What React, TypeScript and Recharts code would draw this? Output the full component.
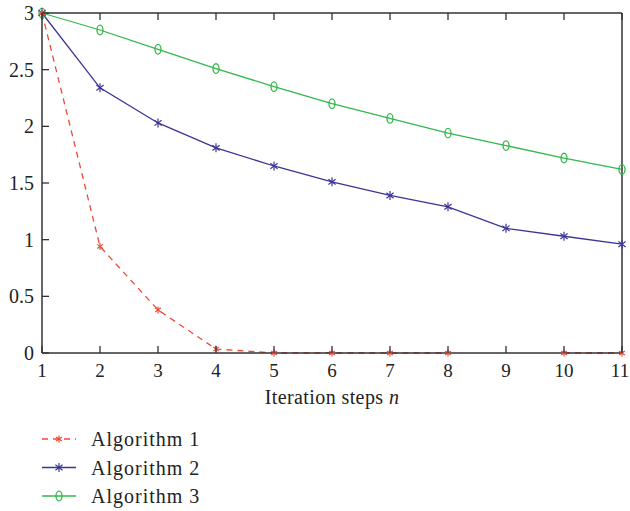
import React from "react";
import { LineChart, Line, XAxis, YAxis } from "recharts";

const steps = [1, 2, 3, 4, 5, 6, 7, 8, 9, 10, 11];
const algorithm1 = [3, 0.94, 0.38, 0.035, 0, 0, 0, 0, null, 0, 0];
const algorithm2 = [3, 2.34, 2.03, 1.81, 1.65, 1.51, 1.39, 1.29, 1.1, 1.03, 0.96];
const algorithm3 = [3, 2.85, 2.68, 2.51, 2.35, 2.2, 2.07, 1.94, 1.83, 1.72, 1.62];
const yTicks = [0, 0.5, 1, 1.5, 2, 2.5, 3];
const seriesNames = ["Algorithm 1", "Algorithm 2", "Algorithm 3"];

const RED = "#ee4a35";
const BLUE = "#3b3597";
const GREEN = "#33b84a";
const AXIS = "#333";
const FONT = "'Liberation Serif', 'DejaVu Serif', serif";
const FS = 20;

const chartData = steps.map((s, i) => ({
  step: s,
  a1: algorithm1[i],
  a2: algorithm2[i],
  a3: algorithm3[i],
}));

const StarMark = ({ cx, cy, color, r }: any) => (
  <g stroke={color} strokeWidth={1.2}>
    <line x1={cx} y1={cy - r} x2={cx} y2={cy + r} />
    <line x1={cx - r * 0.8} y1={cy - r * 0.6} x2={cx + r * 0.8} y2={cy + r * 0.6} />
    <line x1={cx - r * 0.8} y1={cy + r * 0.6} x2={cx + r * 0.8} y2={cy - r * 0.6} />
  </g>
);

const CircleMark = ({ cx, cy, color }: any) => (
  <ellipse cx={cx} cy={cy} rx={3} ry={4.8} fill="none" stroke={color} strokeWidth={1.3} />
);

const makeDot = (kind: string, color: string) => (props: any) => {
  const { cx, cy, value, index } = props;
  if (value == null || cy == null || isNaN(cy)) return <g key={`d${index}`} />;
  if (kind === "circle") return <CircleMark key={`d${index}`} cx={cx} cy={cy} color={color} />;
  return <StarMark key={`d${index}`} cx={cx} cy={cy} color={color} r={kind === "star1" ? 3.5 : 4.5} />;
};

const BottomTick = ({ x, y, payload, index, visibleTicksCount }: any) => {
  // the last label sits on the page edge, nudge it in a little
  const shift = index === visibleTicksCount - 1 ? -2 : 0;
  return (
    <g>
      <line x1={x} x2={x} y1={y} y2={y - 7} stroke={AXIS} strokeWidth={1.3} />
      <text x={x + shift} y={y + 24} textAnchor="middle" fontSize={19} fill="#222" fontFamily={FONT}>
        {payload.value}
      </text>
    </g>
  );
};

const TopTick = ({ x, y }: any) => (
  <line x1={x} x2={x} y1={y} y2={y + 7} stroke={AXIS} strokeWidth={1.3} />
);

const LeftTick = ({ x, y, payload }: any) => (
  <g>
    <line x1={x} x2={x + 7} y1={y} y2={y} stroke={AXIS} strokeWidth={1.3} />
    <text x={x - 8} y={y + 7} textAnchor="end" fontSize={FS} fill="#222" fontFamily={FONT}>
      {payload.value}
    </text>
  </g>
);

const RightTick = ({ x, y }: any) => (
  <line x1={x} x2={x - 7} y1={y} y2={y} stroke={AXIS} strokeWidth={1.3} />
);

const legendRows = [
  { name: seriesNames[0], color: RED, dash: "6 5", kind: "star1" },
  { name: seriesNames[1], color: BLUE, dash: undefined, kind: "star2" },
  { name: seriesNames[2], color: GREEN, dash: undefined, kind: "circle" },
];

export default function App() {
  return (
    <div style={{ position: "absolute", left: 0, top: 0, width: 630, height: 511, background: "#fff" }}>
      <LineChart
        width={630}
        height={420}
        data={chartData}
        margin={{ top: 12, right: 7, left: 0, bottom: 17 }}
      >
        <XAxis
          dataKey="step"
          type="number"
          domain={[1, 11]}
          ticks={steps}
          height={50}
          tickSize={0}
          tickMargin={0}
          tick={<BottomTick />}
          axisLine={{ stroke: AXIS, strokeWidth: 1.5 }}
          tickLine={false}
          label={{
            value: "Iteration steps",
            position: "insideBottom",
            offset: 0,
            content: ({ viewBox }: any) => (
              <text
                x={viewBox.x + viewBox.width / 2}
                y={404}
                textAnchor="middle"
                fontSize={FS}
                fill="#222"
                fontFamily={FONT}
                letterSpacing={0.4}
              >
                Iteration steps <tspan fontStyle="italic">n</tspan>
              </text>
            ),
          }}
        />
        <XAxis
          xAxisId="top"
          orientation="top"
          dataKey="step"
          type="number"
          domain={[1, 11]}
          ticks={steps}
          height={1}
          tickSize={0}
          tickMargin={0}
          tick={<TopTick />}
          axisLine={{ stroke: AXIS, strokeWidth: 1.5 }}
          tickLine={false}
        />
        <YAxis
          type="number"
          domain={[0, 3]}
          ticks={yTicks}
          width={42}
          tickSize={0}
          tickMargin={0}
          tick={<LeftTick />}
          axisLine={{ stroke: AXIS, strokeWidth: 1.5 }}
          tickLine={false}
        />
        <YAxis
          yAxisId="right"
          orientation="right"
          type="number"
          domain={[0, 3]}
          ticks={yTicks}
          width={1}
          tickSize={0}
          tickMargin={0}
          tick={<RightTick />}
          axisLine={{ stroke: AXIS, strokeWidth: 1.5 }}
          tickLine={false}
        />
        <Line
          dataKey="a3"
          stroke={GREEN}
          strokeWidth={1.3}
          dot={makeDot("circle", GREEN)}
          isAnimationActive={false}
        />
        <Line
          dataKey="a2"
          stroke={BLUE}
          strokeWidth={1.3}
          dot={makeDot("star2", BLUE)}
          isAnimationActive={false}
        />
        <Line
          dataKey="a1"
          stroke={RED}
          strokeWidth={1.3}
          strokeDasharray="6 5"
          dot={makeDot("star1", RED)}
          isAnimationActive={false}
        />
      </LineChart>
      <svg width={630} height={91} style={{ position: "absolute", left: 0, top: 420 }}>
        {legendRows.map((row, i) => {
          const cy = 19 + i * 28.5;
          return (
            <g key={row.name}>
              <line x1={42} x2={76} y1={cy} y2={cy} stroke={row.color} strokeWidth={1.3} strokeDasharray={row.dash} />
              {row.kind === "circle" ? (
                <CircleMark cx={59} cy={cy} color={row.color} />
              ) : (
                <StarMark cx={59} cy={cy} color={row.color} r={row.kind === "star1" ? 3.5 : 4.5} />
              )}
              <text x={91} y={cy + 7} fontSize={FS} fill="#222" fontFamily={FONT} letterSpacing={1}>
                {row.name}
              </text>
            </g>
          );
        })}
      </svg>
    </div>
  );
}
